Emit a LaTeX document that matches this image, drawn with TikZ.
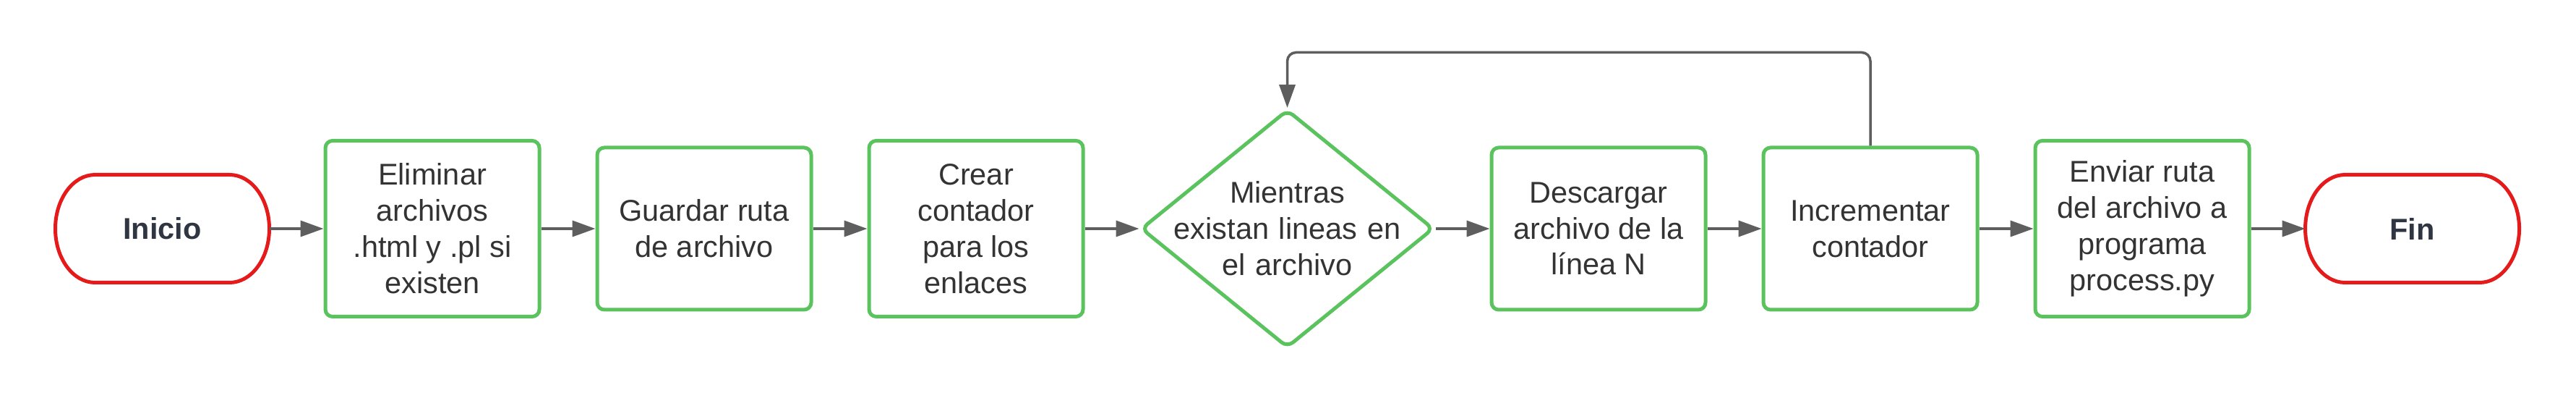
\documentclass[tikz,border=0pt]{standalone}
\usepackage{fontspec}
\setmainfont{Liberation Sans}
\usetikzlibrary{arrows.meta,positioning,shapes.geometric}
\definecolor{boxgreen}{HTML}{5AC35E}
\definecolor{endred}{HTML}{E51B1B}
\definecolor{flowgray}{HTML}{5E5E5E}
\definecolor{txtgray}{HTML}{333333}
\definecolor{endtxt}{HTML}{2F3541}
\begin{document}
\begin{tikzpicture}[node distance=0.75cm,
    every node/.style = {font=\fontsize{11.8pt}{14.2pt}\selectfont, text=txtgray, align=center},
    terminal/.style = {minimum width=2.96cm, minimum height=1.49cm, outer sep=0pt,
        font=\fontsize{11.8pt}{14.2pt}\selectfont\bfseries, text=endtxt},
    process/.style = {draw=boxgreen, line width=0.05cm, rounded corners=1mm,
        minimum width=2.96cm, minimum height=2.43cm},
    short/.style = {process, minimum height=2.24cm},
    decision/.style = {diamond, draw=boxgreen, line width=0.05cm, rounded corners=1mm,
        minimum width=4.05cm, minimum height=3.29cm, inner ysep=0pt,
        text width=3.8cm, inner xsep=-1.9cm},
    flow/.style = {draw=flowgray, line width=0.035cm, -{Triangle[length=3.2mm,width=2.2mm]}},
    endline/.style = {draw=endred, line width=0.05cm}]
\useasboundingbox (0,0) rectangle (35.63,5.61);
\node[terminal] (inicio) at (2.245,2.45) {Inicio};
\node[process, right=of inicio] (eliminar) {Eliminar\\archivos\\.html y .pl si\\existen};
\node[short, right=of eliminar] (guardar) {Guardar ruta\\de archivo};
\node[process, right=of guardar] (crear) {Crear\\contador\\para los\\enlaces};
\node[decision, right=of crear] (mientras) {Mientras\\existan lineas en\\el archivo};
\node[short, right=of mientras] (descargar) {Descargar\\archivo de la\\línea N};
\node[short, right=of descargar] (incr) {Incrementar\\contador};
\node[process, right=of incr] (enviar) {Enviar ruta\\del archivo a\\programa\\process.py};
\node[terminal, right=of enviar] (fin) {Fin};
\foreach \t in {inicio,fin}
    \draw[endline] ([xshift=0.55cm]\t.north west) -- ([xshift=-0.55cm]\t.north east)
        arc[start angle=90, end angle=-90, x radius=0.55cm, y radius=0.745cm]
        -- ([xshift=0.55cm]\t.south west)
        arc[start angle=270, end angle=90, x radius=0.55cm, y radius=0.745cm] -- cycle;
\draw[flow] (inicio) -- (eliminar);
\draw[flow] (eliminar) -- (guardar);
\draw[flow] (guardar) -- (crear);
\draw[flow] (crear) -- (mientras);
\draw[flow] (mientras) -- (descargar);
\draw[flow] (descargar) -- (incr);
\draw[flow] (incr) -- (enviar);
\draw[flow] (enviar) -- (fin);
\draw[flow, rounded corners=1.2mm] (incr.north) -- ++(0,1.29) -| (mientras.north);
\end{tikzpicture}
\end{document}
